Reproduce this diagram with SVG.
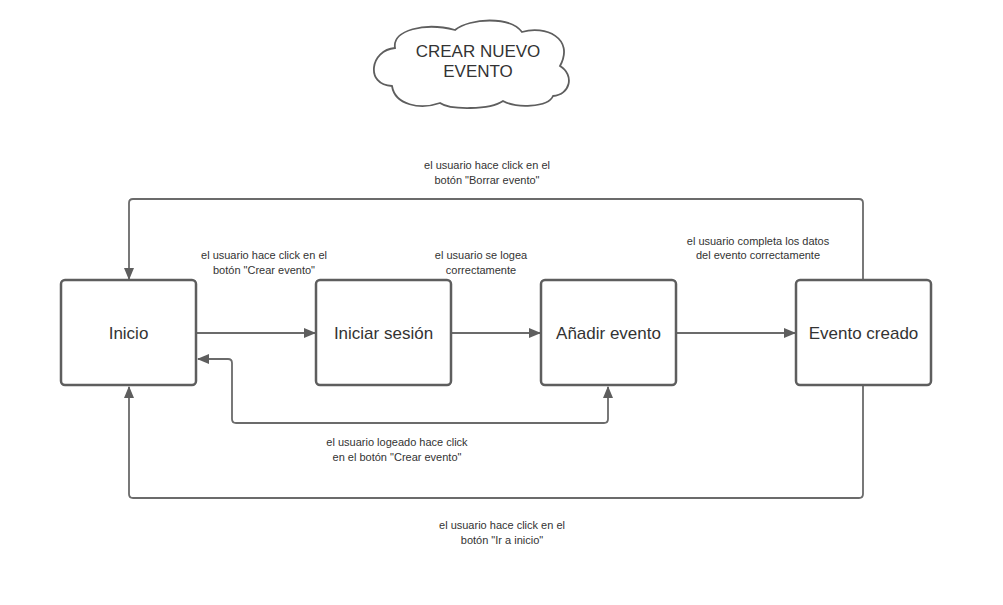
<svg xmlns="http://www.w3.org/2000/svg" width="1003" height="605" viewBox="0 0 1003 605">
<style>
.box{fill:#ffffff;stroke:#5e5e5e;stroke-width:2.5}
.edge{fill:none;stroke:#6b6b6b;stroke-width:1.8;stroke-linejoin:round}
.nl{font-family:"Liberation Sans",Arial,sans-serif;font-size:17px;fill:#333333;text-anchor:middle}
.el{font-family:"Liberation Sans",Arial,sans-serif;font-size:11px;fill:#333333;text-anchor:middle}
</style>
<defs>
<marker id="ah" viewBox="0 0 12 10" refX="11" refY="5" markerWidth="12" markerHeight="10" markerUnits="userSpaceOnUse" orient="auto">
<path d="M0,0 L12,5 L0,10 Z" fill="#5e5e5e"/>
</marker>
<marker id="ahs" viewBox="0 0 12 10" refX="11" refY="5" markerWidth="12" markerHeight="10" markerUnits="userSpaceOnUse" orient="auto-start-reverse">
<path d="M0,0 L12,5 L0,10 Z" fill="#5e5e5e"/>
</marker>
</defs>
<rect width="1003" height="605" fill="#ffffff"/>
<g id="cloud">
<path d="M395 48 C392 30,425 22,455 30 C470 18,510 16,522 32 C545 25,575 38,560 66 C575 75,570 95,553 96 C548 108,515 108,503 101 C490 110,450 110,440 103 C420 110,395 105,392 86 C365 85,370 50,395 48 Z" fill="#ffffff" stroke="#5e5e5e" stroke-width="1.8"/>
<text class="nl" x="478" y="57">CREAR NUEVO</text>
<text class="nl" x="478" y="77">EVENTO</text>
</g>
<g id="connectors">
<path class="edge" d="M196 333 L315 333" marker-end="url(#ah)"/>
<path class="edge" d="M451 333 L540 333" marker-end="url(#ah)"/>
<path class="edge" d="M676 333 L795 333" marker-end="url(#ah)"/>
<path class="edge" d="M863 280 L863 203 Q863 199 859 199 L133 199 Q129 199 129 203 L129 279" marker-end="url(#ah)"/>
<path class="edge" d="M863 386 L863 494 Q863 498 859 498 L133 498 Q129 498 129 494 L129 387" marker-end="url(#ah)"/>
<path class="edge" d="M198 359 L228 359 Q232 359 232 363 L232 419 Q232 423 236 423 L604 423 Q608 423 608 419 L608 387" marker-start="url(#ahs)" marker-end="url(#ah)"/>
<text class="el" x="487" y="169">el usuario hace click en el</text>
<text class="el" x="487" y="184">botón "Borrar evento"</text>
<text class="el" x="264" y="259">el usuario hace click en el</text>
<text class="el" x="264" y="274">botón "Crear evento"</text>
<text class="el" x="481" y="259">el usuario se logea</text>
<text class="el" x="481" y="274">correctamente</text>
<text class="el" x="758" y="245">el usuario completa los datos</text>
<text class="el" x="758" y="259">del evento correctamente</text>
<text class="el" x="397" y="446">el usuario logeado hace click</text>
<text class="el" x="397" y="461">en el botón "Crear evento"</text>
<text class="el" x="502" y="529">el usuario hace click en el</text>
<text class="el" x="502" y="544">botón "Ir a inicio"</text>
</g>
<g id="inicio">
<rect class="box" x="61" y="280" width="135" height="105" rx="4"/>
<text class="nl" x="128.5" y="339">Inicio</text>
</g>
<g id="iniciar-sesion">
<rect class="box" x="316" y="280" width="135" height="105" rx="4"/>
<text class="nl" x="383.5" y="339">Iniciar sesión</text>
</g>
<g id="anadir-evento">
<rect class="box" x="541" y="280" width="135" height="105" rx="4"/>
<text class="nl" x="608.5" y="339">Añadir evento</text>
</g>
<g id="evento-creado">
<rect class="box" x="796" y="280" width="135" height="105" rx="4"/>
<text class="nl" x="863.5" y="339">Evento creado</text>
</g>
</svg>
